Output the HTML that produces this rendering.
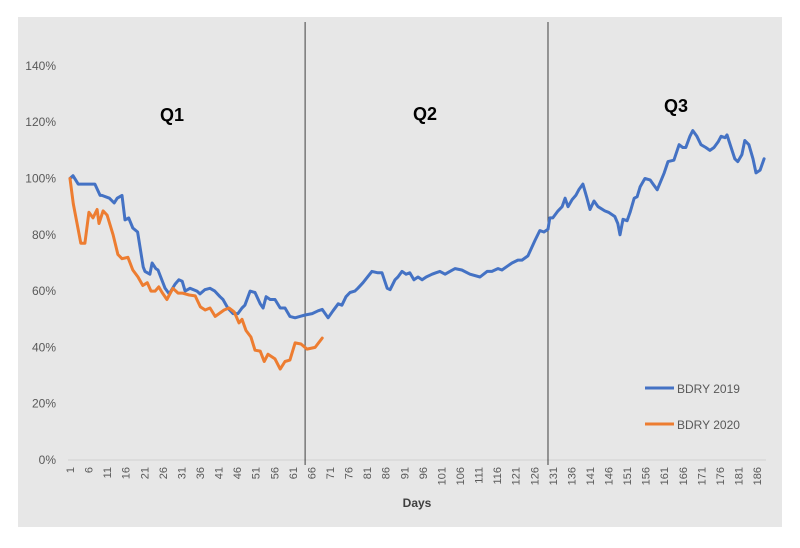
<!DOCTYPE html>
<html><head><meta charset="utf-8"><style>
body{margin:0;background:#fff;width:800px;height:543px;overflow:hidden;font-family:"Liberation Sans",sans-serif}
</style></head><body>
<svg id="chart" width="800" height="543" xmlns="http://www.w3.org/2000/svg">
<rect x="18" y="17" width="764" height="510" fill="#e7e7e7"/>
<g id="yaxis"></g>
<g id="xaxis"></g>
<g id="series"></g>
<text x="172" y="121" font-size="18" font-weight="bold" text-anchor="middle" fill="#000">Q1</text>
<text x="425" y="120" font-size="18" font-weight="bold" text-anchor="middle" fill="#000">Q2</text>
<text x="676" y="112" font-size="18" font-weight="bold" text-anchor="middle" fill="#000">Q3</text>
<text x="417" y="507" font-size="12" font-weight="bold" text-anchor="middle" fill="#404040">Days</text>
<g>
<line x1="645" y1="388" x2="674" y2="388" stroke="#4472c4" stroke-width="3"/>
<text x="677" y="393" font-size="12" fill="#595959">BDRY 2019</text>
<line x1="645" y1="424" x2="674" y2="424" stroke="#ed7d31" stroke-width="3"/>
<text x="677" y="429" font-size="12" fill="#595959">BDRY 2020</text>
</g>
</svg>
<script>
const yTicks=[0,20,40,60,80,100,120,140];
const xTickDays=[];for(let d=1;d<=186;d+=5)xTickDays.push(d);
const quarterLineDays=[64.3,129.7];
const days2019=[1,1.8,3.2,6.4,7.7,9.1,9.6,11.6,12.9,13.7,15,15.8,16.8,17.9,19.2,20.7,21.2,22.5,23.1,24.1,24.7,26.6,27.7,29.3,30.3,31.2,32,33.3,35.2,36,37.3,38.7,40,41.4,42.2,43.5,44.9,46.2,47.3,48.1,49.5,50.8,52.2,53,53.8,54.9,56.2,57.6,58.9,60.2,61.6,62.9,64.3,66.2,67.8,68.9,70.5,71.8,73.2,74.2,75.3,76.4,77.7,78.5,79.9,82.3,83.9,85,86.4,87.2,88.5,89.3,90.4,91.5,92.5,93.6,94.7,95.8,96.9,98.5,99.5,100.6,102,103.3,104.7,106.5,108.7,111.4,113.3,114.6,116.2,117.3,118.9,120,121.6,122.7,124.3,126.2,127.5,128.6,129.7,130.2,131,132.4,133.5,134.3,135.1,136.2,137.2,138,139.1,140.2,141,142.1,143.2,145,146,147.7,148.5,149.1,149.9,151,151.8,152.9,153.7,154.5,155.8,157.2,158,159.1,161,162,163.6,165,166,166.8,167.9,168.7,169.8,170.9,172.2,173.3,174.4,175.5,176.3,177.4,177.9,179,180,180.8,181.9,182.7,183.8,184.9,185.7,186.8,187.9];
const vals2019=[100,101,98,98,98,94,94,93,91.3,93,94,85.3,86,82.4,81,68.6,67,66,70,68,67.5,61,59,62.5,64,63.5,60,61,60,59,60.5,61,60,58,57,54,52,52,54,55,60,59.5,55.5,54,58,57,57,54,54,51,50.5,51,51.5,52,53,53.5,50.5,53,55.5,55,58,59.5,60,61,63,67,66.5,66.5,61,60.5,64,65,67,66,66.5,64,65,64,65,66,66.5,67,66,67,68,67.5,66,65,67,67,68,67.5,69,70,71,71,72.5,78,81.5,81,82,86,86,88.5,90,93,90,92.5,94,96,98,93,89,92,90,88.5,88,86.5,84,80,85.5,85,88,93,93.5,97,100,99.5,98,96,102,106,106.5,112,111,111,115,117,115,112,111,110,111,113,115,114.5,115.5,111,107,106,108.5,113.5,112,107,102,103,107];
const days2020=[1,1.9,3.9,5,6.1,7.2,8.3,8.8,9.9,11,12.6,13.9,15,16.6,17.9,19.3,20.6,21.8,22.8,23.9,24.9,25.8,27.1,28.7,30.1,31.2,33.1,34.7,36.1,37.4,38.7,40.1,42.5,43.8,45.2,46.5,47.3,48.4,49.7,50.8,52.2,53.3,54.3,56.2,57.6,58.9,60.2,61.6,63.2,64.8,67,68.9];
const vals2020=[100,91,77,77,88,86,89,84,88.5,87,80,73,71.5,72,67.5,65,62,63,60,60,61.5,59.5,57,61,59.3,59.3,58.6,58.3,54.4,53.3,54,51,53.3,54,52.6,48.7,50,46,43.7,39,38.7,35,37.6,35.9,32.3,35,35.5,41.6,41.2,39.4,40,43.3];
const X0=70,DAY_PX=3.714,Y0=460,PCT_PX=2.815;
function xs(d){return X0+(d-1)*DAY_PX;}
function ys(v){return Y0-v*PCT_PX;}
const NS='http://www.w3.org/2000/svg';
function mk(t,a,p){const e=document.createElementNS(NS,t);for(const k in a)e.setAttribute(k,a[k]);p.appendChild(e);return e;}
const ya=document.getElementById('yaxis'),xa=document.getElementById('xaxis'),sg=document.getElementById('series');
yTicks.forEach(v=>{const t=mk('text',{x:56,y:ys(v)+4,'font-size':12,'text-anchor':'end',fill:'#595959'},ya);


t.textContent=v+'%';});
const base=mk('line',{x1:68,y1:Y0,x2:766,y2:Y0,stroke:'#d0d0d0','stroke-width':1},xa);


xTickDays.forEach(d=>{const x=xs(d);const t=mk('text',{x:0,y:0,'font-size':11,'text-anchor':'end',fill:'#595959',transform:`translate(${x+4},467) rotate(-90)`},xa);


t.textContent=d;});
quarterLineDays.forEach(d=>{const l=mk('line',{x1:xs(d),y1:22,x2:xs(d),y2:465,stroke:'#404040','stroke-width':1},sg);

});
function line(ds,vs,c,name){const pts=ds.map((d,i)=>xs(d).toFixed(1)+','+ys(vs[i]).toFixed(1)).join(' ');
const p=mk('polyline',{points:pts,fill:'none',stroke:c,'stroke-width':3,'stroke-linejoin':'round','stroke-linecap':'round'},sg);

}
line(days2019,vals2019,'#4472c4','line-bdry-2019');
line(days2020,vals2020,'#ed7d31','line-bdry-2020');
</script>
</body></html>
